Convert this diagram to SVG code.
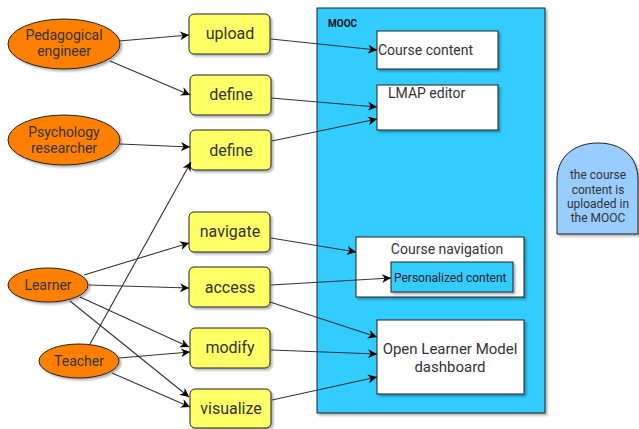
<svg xmlns="http://www.w3.org/2000/svg" width="639" height="429" viewBox="0 0 639 429">
  <defs>
    <filter id="shadow" x="-10%" y="-10%" width="130%" height="130%">
      <feDropShadow dx="2" dy="2" stdDeviation="0.8" flood-color="#000" flood-opacity="0.3"/>
    </filter>
    <marker id="arrow" viewBox="0 0 10 10" refX="10" refY="5" markerWidth="9" markerHeight="9" orient="auto" markerUnits="userSpaceOnUse">
      <path d="M0,0 L10,5 L0,10 L3,5 Z" fill="#000"/>
    </marker>
  </defs>
  <style>
    text { font-family: Roboto, "Liberation Sans", sans-serif; fill: #333; }
    .actor { fill: #FF8000; stroke: #222; stroke-width: 1; filter: url(#shadow); }
    .act { fill: #FFFF66; stroke: #222; stroke-width: 1; filter: url(#shadow); }
    .act-label { font-size: 16px; text-anchor: middle; }
    .comp { fill: #FFFFFF; stroke: #222; stroke-width: 1; filter: url(#shadow); }
    .cyan { fill: #33CCFF; stroke: #222; stroke-width: 1; filter: url(#shadow); }
    .note { fill: #99CCFF; stroke: #222; stroke-width: 1; filter: url(#shadow); }
    .edge { stroke: #333; stroke-width: 1.1; fill: none; marker-end: url(#arrow); }
    .c { text-anchor: middle; }
  </style>

  <rect width="639" height="429" fill="#FFFFFF"/>

  <!-- MOOC container -->
  <g id="mooc">
    <rect class="cyan" x="317" y="8" width="228" height="405"/>
    <text x="328" y="27" font-size="10" font-weight="bold" style="fill:#111">MOOC</text>
  </g>

  <!-- Actors -->
  <g id="pedagogical-engineer">
    <ellipse class="actor" cx="64" cy="44" rx="56" ry="25"/>
    <text class="c" x="64" y="40" font-size="14">Pedagogical</text>
    <text class="c" x="64" y="56" font-size="14">engineer</text>
  </g>
  <g id="psychology-researcher">
    <ellipse class="actor" cx="64" cy="140" rx="56" ry="25"/>
    <text class="c" x="64" y="137" font-size="14">Psychology</text>
    <text class="c" x="64" y="153" font-size="14">researcher</text>
  </g>
  <g id="learner">
    <ellipse class="actor" cx="48" cy="285" rx="40" ry="17"/>
    <text class="c" x="48" y="290" font-size="14">Learner</text>
  </g>
  <g id="teacher">
    <ellipse class="actor" cx="79" cy="361" rx="40" ry="17"/>
    <text class="c" x="79" y="366" font-size="14">Teacher</text>
  </g>

  <!-- Actions -->
  <g id="upload">
    <rect class="act" x="189" y="14" width="81" height="40" rx="5"/>
    <text class="act-label" x="230" y="39">upload</text>
  </g>
  <g id="define-editor">
    <rect class="act" x="190" y="75" width="81" height="40" rx="5"/>
    <text class="act-label" x="231" y="100">define</text>
  </g>
  <g id="define-model">
    <rect class="act" x="190" y="130" width="81" height="40" rx="5"/>
    <text class="act-label" x="231" y="156">define</text>
  </g>
  <g id="navigate">
    <rect class="act" x="189" y="212" width="81" height="40" rx="5"/>
    <text class="act-label" x="230" y="237">navigate</text>
  </g>
  <g id="access">
    <rect class="act" x="189" y="267" width="81" height="40" rx="5"/>
    <text class="act-label" x="230" y="293">access</text>
  </g>
  <g id="modify">
    <rect class="act" x="190" y="328" width="80" height="40" rx="5"/>
    <text class="act-label" x="230" y="353">modify</text>
  </g>
  <g id="visualize">
    <rect class="act" x="190" y="389" width="81" height="39" rx="5"/>
    <text class="act-label" x="231" y="414">visualize</text>
  </g>

  <!-- MOOC components -->
  <g id="course-content">
    <rect class="comp" x="377" y="31" width="121" height="38"/>
    <text x="378" y="55" font-size="14">Course content</text>
  </g>
  <g id="lmap-editor">
    <rect class="comp" x="377" y="85" width="121" height="45"/>
    <text x="388" y="98" font-size="14">LMAP editor</text>
  </g>
  <g id="course-navigation">
    <rect class="comp" x="356" y="237" width="168" height="60"/>
    <text class="c" x="447" y="254" font-size="14">Course navigation</text>
  </g>
  <g id="personalized-content">
    <rect class="cyan" x="391" y="262" width="122" height="30"/>
    <text x="394" y="282" font-size="12" style="fill:#222">Personalized content</text>
  </g>
  <g id="olm-dashboard">
    <rect class="comp" x="377" y="320" width="147" height="74"/>
    <text class="c" x="450" y="354" font-size="15">Open Learner Model</text>
    <text class="c" x="450" y="372" font-size="15">dashboard</text>
  </g>

  <!-- Note -->
  <g id="note">
    <path class="note" d="M557,234 V180 C557,156 575,143 598,143 C621,143 638,156 638,180 V234 Z"/>
    <text class="c" x="598" y="179" font-size="12">the course</text>
    <text class="c" x="598" y="194" font-size="12">content is</text>
    <text class="c" x="598" y="208" font-size="12">uploaded in</text>
    <text class="c" x="598" y="222" font-size="12">the MOOC</text>
  </g>

  <!-- Connectors -->
  <g id="connectors">
    <line class="edge" x1="119" y1="41" x2="189" y2="35"/>
    <line class="edge" x1="110" y1="61" x2="190" y2="95"/>
    <line class="edge" x1="120" y1="144" x2="190" y2="147"/>
    <line class="edge" x1="90" y1="344" x2="191" y2="162"/>
    <line class="edge" x1="84" y1="275" x2="189" y2="243"/>
    <line class="edge" x1="89" y1="285" x2="189" y2="288"/>
    <line class="edge" x1="80" y1="297" x2="189" y2="347"/>
    <line class="edge" x1="70" y1="301" x2="189" y2="397"/>
    <line class="edge" x1="119" y1="358" x2="190" y2="352"/>
    <line class="edge" x1="112" y1="373" x2="190" y2="407"/>
    <line class="edge" x1="271" y1="39" x2="377" y2="50"/>
    <line class="edge" x1="271" y1="98" x2="377" y2="107"/>
    <line class="edge" x1="272" y1="141" x2="377" y2="119"/>
    <line class="edge" x1="271" y1="238" x2="356" y2="252"/>
    <line class="edge" x1="271" y1="285" x2="391" y2="278"/>
    <line class="edge" x1="270" y1="302" x2="377" y2="337"/>
    <line class="edge" x1="271" y1="350" x2="377" y2="354"/>
    <line class="edge" x1="272" y1="400" x2="377" y2="377"/>
  </g>
</svg>
